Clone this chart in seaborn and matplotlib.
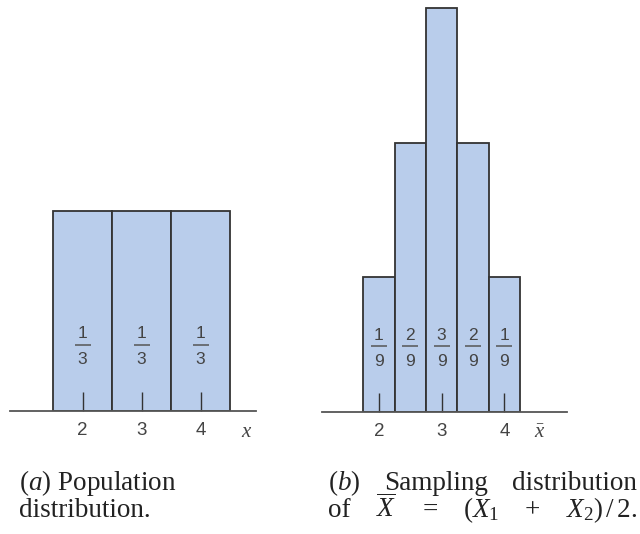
import matplotlib
matplotlib.use("Agg")
import matplotlib.pyplot as plt
from matplotlib.transforms import ScaledTranslation, blended_transform_factory
import seaborn as sns
import pandas as pd

# Population distribution: values 2, 3, 4 equally likely
pop_values = [2, 3, 4]
pop_probs = [1 / 3, 1 / 3, 1 / 3]
pop_num = ["1", "1", "1"]
pop_den = ["3", "3", "3"]

# Sampling distribution of the mean of two draws
samp_values = [2, 2.5, 3, 3.5, 4]
samp_probs = [1 / 9, 2 / 9, 3 / 9, 2 / 9, 1 / 9]
samp_num = ["1", "2", "3", "2", "1"]
samp_den = ["9", "9", "9", "9", "9"]

tick_values = [2, 3, 4]
tick_labels = ["2", "3", "4"]

caption_a = [r"($a$) Population", "distribution."]
caption_b = [[r"($b$)", "Sampling", "distribution"],
             ["of", r"$\overline{X}$", "=", r"($X_1$", "+", r"$X_2$)$\,$/$\,$2."]]

BAR_FILL = "#b9cdeb"
BAR_EDGE = "#333333"
INK = "#444444"
SANS = ["Liberation Sans", "DejaVu Sans"]
SERIF = ["Liberation Serif", "DejaVu Serif"]

plt.rcParams["mathtext.fontset"] = "custom"
plt.rcParams["mathtext.rm"] = "Liberation Serif"
plt.rcParams["mathtext.it"] = "Liberation Serif:italic"

W, H = 640, 534
fig = plt.figure(figsize=(W / 100, H / 100), dpi=100)


def px_axes(x0, x1, base, top=0):
    return fig.add_axes([x0 / W, (H - base) / H, (x1 - x0) / W, (base - top) / H])


def draw_panel(ax, values, probs, nums, dens, xlim, ylim, axis_label, label_x):
    df = pd.DataFrame({"value": values, "prob": probs})
    sns.barplot(data=df, x="value", y="prob", native_scale=True, orient="x",
                width=1.0, color=BAR_FILL, saturation=1, errorbar=None,
                edgecolor=BAR_EDGE, linewidth=1.3, ax=ax)
    ax.set_xlim(*xlim)
    ax.set_ylim(*ylim)
    ax.set_axisbelow(False)
    for s in ["top", "left", "right"]:
        ax.spines[s].set_visible(False)
    ax.spines["bottom"].set_color("#555555")
    ax.spines["bottom"].set_linewidth(1.3)
    ax.spines["bottom"].set_zorder(3)
    ax.set_yticks([])
    ax.set_xticks(tick_values)
    ax.set_xticklabels(tick_labels, fontfamily=SANS, fontsize=13.5, color=INK)
    ax.tick_params(axis="x", direction="in", length=14, width=1.0,
                   color="#333333", pad=8)
    ax.set_xlabel("")
    ax.set_ylabel("")
    ax.patch.set_alpha(0)

    # stacked fraction labels inside each bar
    for v, n, d in zip(values, nums, dens):
        up = lambda dy: ax.transData + ScaledTranslation(0, dy / 100, fig.dpi_scale_trans)
        ax.text(v, 0, n, transform=up(77), ha="center", va="center",
                fontfamily=SANS, fontsize=12.5, color=INK)
        ax.text(v, 0, d, transform=up(51), ha="center", va="center",
                fontfamily=SANS, fontsize=12.5, color=INK)
        ax.plot([v], [0], marker="_", markersize=11.5, markeredgewidth=1.1,
                color="#555555", transform=up(66), clip_on=False)

    tr = blended_transform_factory(ax.transData, ax.transAxes)
    ax.text(label_x, 0, axis_label, transform=tr + ScaledTranslation(0, -20 / 100, fig.dpi_scale_trans),
            ha="center", va="center", fontsize=15, color=INK)


ax_a = px_axes(10, 256, 411)
draw_panel(ax_a, pop_values, pop_probs, pop_num, pop_den,
           xlim=(0.771, 4.94), ylim=(0, 411 / 600), axis_label=r"$x$", label_x=4.79)

ax_b = px_axes(322, 567, 412)
draw_panel(ax_b, samp_values, samp_probs, samp_num, samp_den,
           xlim=(1.091, 5.0), ylim=(0, 412 / (134.7 * 9)), axis_label=r"$\bar{x}$", label_x=4.57)

# captions
cap = dict(fontfamily=SERIF, fontsize=19.5, color="#222222", va="baseline")
baselines = [490, 517]
for line, yb in zip(caption_a, baselines):
    fig.text(19 / W, 1 - yb / H, line, **cap)

# caption (b) is set justified between two margins
renderer = fig.canvas.get_renderer()
left, right = 328, 637
for words, yb in zip(caption_b, baselines):
    items = [fig.text(0, 1 - yb / H, w, ha="left", **cap) for w in words]
    widths = [t.get_window_extent(renderer).width for t in items]
    gap = (right - left - sum(widths)) / (len(items) - 1)
    xpos = left
    for t, w in zip(items, widths):
        t.set_x(xpos / W)
        xpos += w + gap

fig.savefig("out.png", dpi=100)
